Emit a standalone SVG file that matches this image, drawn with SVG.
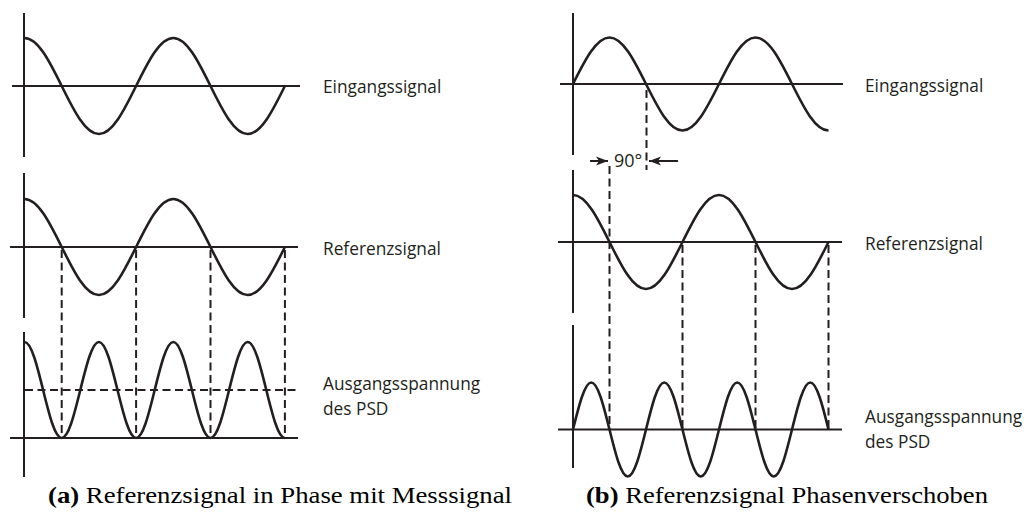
<svg xmlns="http://www.w3.org/2000/svg" width="1024" height="516" viewBox="0 0 1024 516">
<defs>
<style>
.ax{stroke:#231f20;stroke-width:2;fill:none}
.cv{stroke:#231f20;stroke-width:2.6;fill:none;stroke-linejoin:round}
.ds{stroke:#231f20;stroke-width:2;fill:none;stroke-dasharray:8 4.5}
.lb{font-family:"Open Sans","Noto Sans",sans-serif;font-size:17.3px;fill:#231f20}
.cp{font-family:"Liberation Serif","Times New Roman",serif;font-size:24px;fill:#000}
.cpb{font-weight:bold}
</style>
<marker id="ah" viewBox="-13 -5 14 10" refX="0" refY="0" markerWidth="14" markerHeight="10" markerUnits="userSpaceOnUse" orient="auto">
<path d="M0,0 L-12,-4.5 L-9,0 L-12,4.5 z" fill="#231f20"/>
</marker>
</defs>
<rect width="1024" height="516" fill="#fff"/>

<g id="a-eingang">
<line class="ax" x1="24" y1="13" x2="24" y2="157"/>
<line class="ax" x1="12" y1="86" x2="300" y2="86"/>
<path class="cv" d="M24.5 38 C37.93 38 49.55 61.39 61.7 86 S85.47 134 98.9 134 S123.95 110.61 136.1 86 S159.87 38 173.3 38 S198.35 61.39 210.5 86 S234.27 134 247.7 134 S272.75 110.61 284.9 86"/>
<text class="lb" x="323" y="93">Eingangssignal</text>
</g>

<g id="a-referenz">
<line class="ax" x1="24" y1="173" x2="24" y2="318"/>
<line class="ax" x1="10" y1="247" x2="298" y2="247"/>
<path class="cv" d="M24.5 199 C37.93 199 49.55 222.39 61.7 247 S85.47 295 98.9 295 S123.95 271.61 136.1 247 S159.87 199 173.3 199 S198.35 222.39 210.5 247 S234.27 295 247.7 295 S272.75 271.61 284.9 247"/>
<text class="lb" x="323" y="254.5">Referenzsignal</text>
</g>

<g id="a-ausgang">
<line class="ax" x1="24" y1="332" x2="24" y2="477"/>
<line class="ax" x1="10" y1="438" x2="298" y2="438"/>
<path class="cv" d="M24.5 342 C31.22 342 37.03 365.39 43.1 390 S54.98 438 61.7 438 S74.23 414.61 80.3 390 S92.18 342 98.9 342 S111.43 365.39 117.5 390 S129.38 438 136.1 438 S148.63 414.61 154.7 390 S166.58 342 173.3 342 S185.83 365.39 191.9 390 S203.78 438 210.5 438 S223.03 414.61 229.1 390 S240.98 342 247.7 342 S260.23 365.39 266.3 390 S278.18 438 284.9 438"/>
<text class="lb" x="323" y="390">Ausgangsspannung</text>
<text class="lb" x="323" y="415">des PSD</text>
</g>

<g id="b-eingang">
<line class="ax" x1="573" y1="13" x2="573" y2="155"/>
<line class="ax" x1="560" y1="84" x2="843" y2="84"/>
<path class="cv" d="M573 84 C584.92 60.15 596.32 37.5 609.5 37.5 S634.08 60.15 646 84 S669.32 130.5 682.5 130.5 S707.08 107.85 719 84 S742.32 37.5 755.5 37.5 S780.08 60.15 792 84 S815.32 130.5 828.5 130.5"/>
<text class="lb" x="865" y="92">Eingangssignal</text>
</g>

<g id="b-referenz">
<line class="ax" x1="573" y1="170" x2="573" y2="313"/>
<line class="ax" x1="558" y1="242" x2="842" y2="242"/>
<path class="cv" d="M573 195 C586.18 195 597.58 217.9 609.5 242 S632.82 289 646 289 S670.58 266.1 682.5 242 S705.82 195 719 195 S743.58 217.9 755.5 242 S778.82 289 792 289 S816.58 266.1 828.5 242"/>
<text class="lb" x="865" y="250">Referenzsignal</text>
</g>

<g id="b-ausgang">
<line class="ax" x1="573" y1="325" x2="573" y2="468"/>
<line class="ax" x1="558" y1="429.5" x2="842" y2="429.5"/>
<path class="cv" d="M573 429.5 C578.96 405.4 584.66 382.5 591.25 382.5 S603.54 405.4 609.5 429.5 S621.16 476.5 627.75 476.5 S640.04 453.6 646 429.5 S657.66 382.5 664.25 382.5 S676.54 405.4 682.5 429.5 S694.16 476.5 700.75 476.5 S713.04 453.6 719 429.5 S730.66 382.5 737.25 382.5 S749.54 405.4 755.5 429.5 S767.16 476.5 773.75 476.5 S786.04 453.6 792 429.5 S803.66 382.5 810.25 382.5 S822.54 405.4 828.5 429.5"/>
<text class="lb" x="865" y="423">Ausgangsspannung</text>
<text class="lb" x="865" y="448">des PSD</text>
</g>

<g id="b-phase">
<text class="lb" x="614" y="167" style="font-size:18px">90°</text>
</g>

<g id="connectors">
<line class="ds" x1="61.7" y1="250" x2="61.7" y2="438"/>
<line class="ds" x1="136.1" y1="250" x2="136.1" y2="438"/>
<line class="ds" x1="210.5" y1="250" x2="210.5" y2="438"/>
<line class="ds" x1="284.9" y1="250" x2="284.9" y2="438"/>
<line class="ds" x1="25" y1="390" x2="298" y2="390"/>
<line class="ds" x1="646.5" y1="90" x2="646.5" y2="170"/>
<line class="ds" x1="609.5" y1="166" x2="609.5" y2="429.5"/>
<line class="ds" x1="682.5" y1="245" x2="682.5" y2="429.5"/>
<line class="ds" x1="755.5" y1="245" x2="755.5" y2="429.5"/>
<line class="ds" x1="828.5" y1="245" x2="828.5" y2="429.5"/>
<line class="ax" x1="590" y1="161" x2="608" y2="161" marker-end="url(#ah)"/>
<line class="ax" x1="678" y1="161" x2="649" y2="161" marker-end="url(#ah)"/>
</g>

<g id="captions">
<text class="cp" x="48" y="503" textLength="464" lengthAdjust="spacingAndGlyphs"><tspan class="cpb">(a)</tspan> Referenzsignal in Phase mit Messsignal</text>
<text class="cp" x="586" y="503" textLength="402" lengthAdjust="spacingAndGlyphs"><tspan class="cpb">(b)</tspan> Referenzsignal Phasenverschoben</text>
</g>
</svg>
